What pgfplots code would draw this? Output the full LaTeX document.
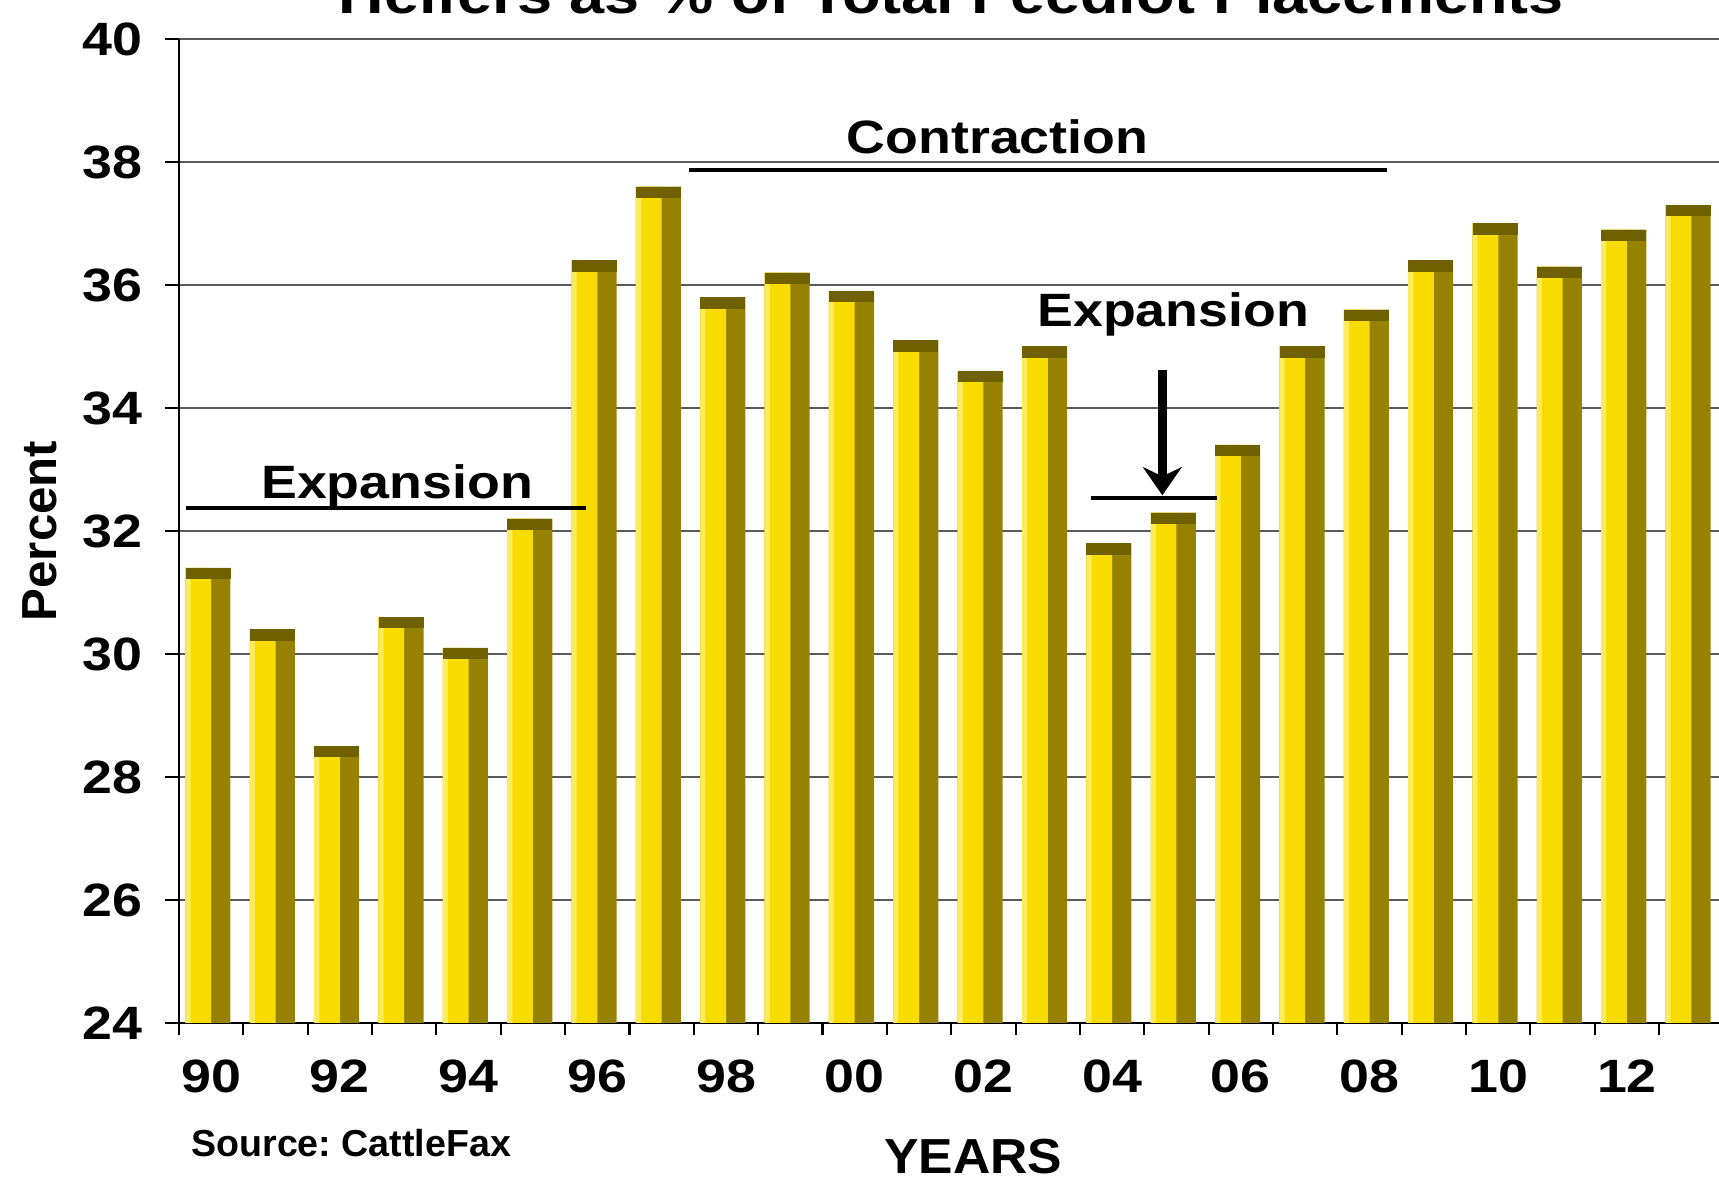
\documentclass[border=0pt]{standalone}
\usepackage{fontspec}
\setmainfont{Liberation Sans}
\usepackage{pgfplots}
\pgfplotsset{compat=1.18}
\usetikzlibrary{arrows.meta}
\frenchspacing
\definecolor{capc}{HTML}{6F6000}
\definecolor{sidec}{HTML}{978200}
\definecolor{frontc}{HTML}{F8DC00}
\definecolor{edgec}{HTML}{FCEB5A}
\definecolor{gridc}{HTML}{5A5A5A}
\newcommand{\lab}{\fontsize{13.3}{15}\selectfont\bfseries}

\pgfplotstableread{
x  v
0  31.4
1  30.4
2  28.5
3  30.6
4  30.1
5  32.2
6  36.4
7  37.6
8  35.8
9  36.2
10 35.9
11 35.1
12 34.6
13 35.0
14 31.8
15 32.3
16 33.4
17 35.0
18 35.6
19 36.4
20 37.0
21 36.3
22 36.9
23 37.3
}\heifers

\begin{document}
\begin{tikzpicture}
\useasboundingbox (-1.79cm,-1.56cm) rectangle (15.40cm,10.23cm);
\begin{axis}[
    scale only axis,
    width=15.40cm, height=9.84cm,
    xmin=-0.5, xmax=23.43,
    ymin=24, ymax=40,
    ytick={24,26,...,40},
    xtick={0,2,...,22},
    xticklabels={90,92,94,96,98,00,02,04,06,08,10,12},
    minor xtick={-0.5,0.5,...,23.5},
    axis x line=bottom, axis y line=left,
    axis line style={-, black, line width=0.7pt},
    ymajorgrids,
    grid style={gridc, line width=0.8pt},
    tick align=outside,
    major tick length=0.14cm,
    minor tick length=0.12cm,
    xtick style={draw=none},
    minor x tick style={draw=black, line width=0.6pt},
    ytick style={black, line width=0.7pt},
    /pgf/number format/assume math mode=true,
    tick label style={font=\lab, xscale=1.15},
    yticklabel style={xshift=-2pt},
    xticklabel style={yshift=-3pt},
    clip=false,
]
% 3D-looking bars: side face, front face, light edge, top cap
\addplot[ybar, bar width=0.70, bar shift=-0.05, draw=none, fill=sidec] table[x=x, y=v] {\heifers};
\addplot[ybar, bar width=0.40, bar shift=-0.20, draw=none, fill=frontc] table[x=x, y=v] {\heifers};
\addplot[ybar, bar width=0.08, bar shift=-0.36, draw=none, fill=edgec] table[x=x, y=v] {\heifers};
\addplot[only marks, mark=-, mark size=6.4pt,
  mark options={draw=capc, line width=3.2pt, yshift=-1.6pt, xshift=-0.9pt}] table[x=x, y=v] {\heifers};

% annotations
\draw[line width=1.2pt] (axis cs:-0.39,32.37) -- (axis cs:5.83,32.37);
\node[font=\lab, xscale=1.15] at (axis cs:2.89,32.73) {Expansion};
\draw[line width=1.2pt] (axis cs:7.42,37.87) -- (axis cs:18.27,37.87);
\node[font=\lab, xscale=1.15] at (axis cs:12.22,38.41) {Contraction};
\node[font=\lab, xscale=1.15] at (axis cs:14.95,35.52) {Expansion};
\draw[line width=2.6pt, -{Stealth[length=8pt, width=11pt]}] (axis cs:14.78,34.61) -- (axis cs:14.78,32.58);
\draw[line width=1.2pt] (axis cs:13.67,32.54) -- (axis cs:15.63,32.54);

% labels
\node[font=\fontsize{14}{16}\selectfont\bfseries, rotate=90] at (axis cs:-2.66,32) {Percent};
\node[font=\fontsize{14}{16}\selectfont\bfseries, xscale=1.05] at (axis cs:11.84,21.82) {YEARS};
\node[font=\fontsize{10.7}{12}\selectfont\bfseries, anchor=west] at (axis cs:-0.5,22.05) {Source: CattleFax};
\node[font=\fontsize{15.6}{18}\selectfont\bfseries, xscale=1.15, anchor=base] at (axis cs:11.5,40.42) {Heifers as \% of Total Feedlot Placements};
\end{axis}
\end{tikzpicture}
\end{document}
